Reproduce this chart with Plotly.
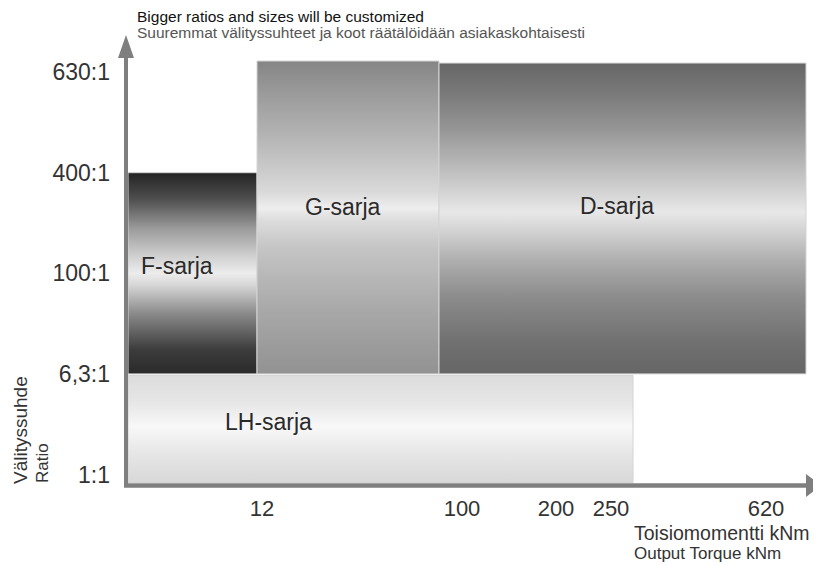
import plotly.graph_objects as go

# ---- data (schematic axis units) ----
series = ["F-sarja", "G-sarja", "D-sarja", "LH-sarja"]
torque_from = [2, 131, 313, 2]
torque_to = [131, 313, 680, 507]
ratio_from = [1.0, 1.0, 1.0, -0.08]
ratio_to = [3.0, 4.11, 4.09, 0.985]

torque_tick_labels = ["12", "100", "200", "250", "620"]
torque_tick_pos = [136, 336, 430, 485, 640]
ratio_tick_labels = ["1:1", "6,3:1", "100:1", "400:1", "630:1"]
ratio_tick_pos = [0, 1, 2, 3, 4]

label_u = [51, 217, 491, 142]
label_v = [2.07, 2.66, 2.67, 0.52]

gradients = [
    [[0, "#2a2a2a"], [0.12, "#3c3c3c"], [0.3, "#8a8a8a"], [0.44, "#d6d6d6"],
     [0.5, "#ececec"], [0.58, "#d2d2d2"], [0.72, "#9c9c9c"], [0.87, "#4e4e4e"], [1, "#242424"]],
    [[0, "#929292"], [0.2, "#a8a8a8"], [0.4, "#c4c4c4"], [0.49, "#dcdcdc"],
     [0.53, "#eeeeee"], [0.58, "#dadada"], [0.75, "#b6b6b6"], [0.9, "#9a9a9a"], [1, "#858585"]],
    [[0, "#666666"], [0.1, "#707070"], [0.24, "#8a8a8a"], [0.37, "#b0b0b0"],
     [0.45, "#cfcfcf"], [0.52, "#e8e8e8"], [0.58, "#d5d5d5"], [0.69, "#b3b3b3"],
     [0.8, "#929292"], [0.9, "#7a7a7a"], [1, "#666666"]],
    [[0, "#d8d8d8"], [0.3, "#e8e8e8"], [0.52, "#f8f8f8"], [0.75, "#e6e6e6"], [1, "#dcdcdc"]],
]

FONT = "Liberation Sans"
OFF = 8  # page body margin
W, H = 821 - OFF, 565 - OFF
L, R, T, B = 126 - OFF, 0, 35 - OFF, 80
PW, PH = W - L - R, H - T - B


def px(x):  # reference pixel x -> paper
    return (x - 126) / PW


def py(y):  # reference pixel y -> paper
    return (485 - y) / PH


fig = go.Figure()
for i, name in enumerate(series):
    x0, x1 = torque_from[i], torque_to[i]
    y0, y1 = ratio_from[i], ratio_to[i]
    fig.add_trace(go.Scatter(
        x=[x0, x1, x1, x0, x0], y=[y0, y0, y1, y1, y0],
        mode="lines", fill="toself",
        fillgradient=dict(type="vertical", colorscale=gradients[i], start=y0, stop=y1),
        line=dict(color="#d4d4d4", width=1),
        hoverinfo="skip", showlegend=False, name=name,
    ))
    fig.add_annotation(x=label_u[i], y=label_v[i], text=name, showarrow=False,
                       font=dict(family=FONT, size=23, color="#2a2a2a"))

axis_col = "#7f7f7f"
shapes = [
    dict(type="line", xref="paper", yref="paper", x0=px(126), x1=px(126), y0=py(487), y1=py(56),
         line=dict(color=axis_col, width=4)),
    dict(type="path", xref="paper", yref="paper",
         path=f"M {px(118)} {py(58)} L {px(126)} {py(35)} L {px(134)} {py(58)} Z",
         fillcolor=axis_col, line=dict(width=0)),
    dict(type="line", xref="paper", yref="paper", x0=px(124), x1=px(808), y0=py(485.5), y1=py(485.5),
         line=dict(color=axis_col, width=4.5)),
    dict(type="path", xref="paper", yref="paper",
         path=f"M {px(806)} {py(474)} L {px(821)} {py(485.5)} L {px(806)} {py(497)} Z",
         fillcolor=axis_col, line=dict(width=0)),
]

notes = [
    ("Bigger ratios and sizes will be customized", 135, 16, 15.5, "#111111"),
    ("Suuremmat välityssuhteet ja koot räätälöidään asiakaskohtaisesti", 135, 33, 15.5, "#555555"),
    ("Toisiomomentti kNm", 632, 533, 19.5, "#333333"),
    ("Output Torque kNm", 632, 553, 17, "#333333"),
]
for text, x, y, size, col in notes:
    fig.add_annotation(xref="paper", yref="paper", x=px(x), y=py(y), text=text,
                       showarrow=False, xanchor="left", yanchor="middle",
                       font=dict(family=FONT, size=size, color=col))

fig.add_annotation(xref="paper", yref="paper", x=px(21), y=py(486), text="Välityssuhde",
                   textangle=-90, showarrow=False, xanchor="center", yanchor="bottom",
                   font=dict(family=FONT, size=19, color="#333333"))
fig.add_annotation(xref="paper", yref="paper", x=px(42), y=py(485), text="Ratio",
                   textangle=-90, showarrow=False, xanchor="center", yanchor="bottom",
                   font=dict(family=FONT, size=17, color="#333333"))

fig.update_layout(
    width=W, height=H,
    margin=dict(l=L, r=R, t=T, b=B),
    paper_bgcolor="white", plot_bgcolor="white",
    shapes=shapes,
    xaxis=dict(range=[0, PW], tickvals=torque_tick_pos, ticktext=torque_tick_labels,
               showgrid=False, zeroline=False, showline=False, ticks="",
               ticklabelstandoff=8,
               tickfont=dict(family=FONT, size=22, color="#333333"), fixedrange=True),
    yaxis=dict(range=[(474.5 - 485) / 100.6, (474.5 - 35) / 100.6],
               tickvals=ratio_tick_pos, ticktext=ratio_tick_labels,
               showgrid=False, zeroline=False, showline=False, ticks="",
               ticklabelstandoff=15,
               tickfont=dict(family=FONT, size=23, color="#333333"), fixedrange=True),
)

fig.write_html("out.html")
